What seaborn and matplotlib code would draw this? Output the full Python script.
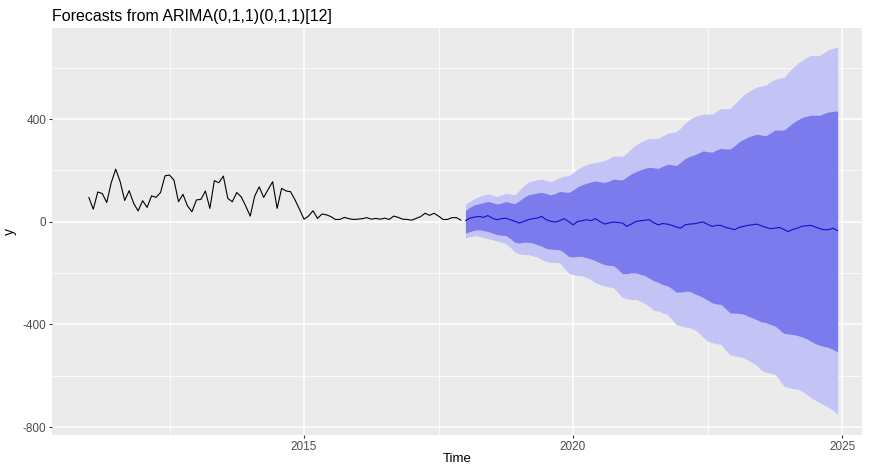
import numpy as np
import pandas as pd
import matplotlib
matplotlib.use("Agg")
import matplotlib.pyplot as plt
import seaborn as sns

# observed monthly series, Jan 2011 - Dec 2017
history = [95, 49, 116, 110, 75, 152, 205, 156, 83, 121, 72, 42,
           82, 56, 101, 95, 114, 179, 182, 162, 78, 107, 62, 39,
           85, 87, 120, 52, 160, 152, 178, 91, 78, 114, 97, 61,
           22, 100, 136, 95, 126, 156, 52, 130, 120, 117, 85, 48,
           10, 22, 43, 13, 30, 27, 20, 9, 9, 17, 12, 9,
           10, 12, 16, 10, 13, 10, 14, 9, 22, 17, 10, 9,
           6, 13, 20, 33, 25, 33, 22, 9, 9, 16, 16, 6]

# point forecast, Jan 2018 - Dec 2024
fc_mean = [4, 14, 18, 21, 17, 24, 14, 8, 12, 14, 8, 2,
           -5, 1, 8, 12, 14, 21, 8, 2, -1, 4, 12, 1,
           -12, 1, 4, 8, 4, 12, 1, -9, -5, -1, -3, -5,
           -18, -9, 1, 4, 6, 8, -4, -12, -7, -9, -14, -20,
           -25, -12, -9, -8, -4, -1, -10, -18, -14, -14, -22, -26,
           -31, -22, -18, -14, -12, -9, -16, -22, -27, -25, -22, -30,
           -38, -30, -25, -18, -16, -14, -20, -27, -31, -31, -25, -35]

hi80 = [44, 56, 66, 70, 74, 79, 75, 69, 73, 79, 74, 70,
        82, 95, 105, 108, 112, 114, 110, 105, 110, 118, 116, 114,
        124, 136, 144, 150, 155, 159, 156, 153, 158, 166, 164, 163,
        175, 187, 195, 202, 208, 212, 210, 208, 216, 224, 222, 219,
        232, 246, 255, 260, 268, 276, 273, 271, 280, 286, 284, 283,
        296, 311, 321, 330, 336, 341, 338, 335, 346, 357, 357, 357,
        370, 385, 396, 405, 411, 415, 415, 415, 422, 428, 430, 432]

hi95 = [69, 80, 90, 98, 104, 109, 104, 98, 104, 111, 108, 105,
        122, 140, 154, 160, 163, 166, 161, 156, 163, 172, 178, 179,
        192, 205, 215, 222, 228, 230, 234, 238, 246, 256, 256, 254,
        268, 285, 299, 310, 318, 325, 325, 325, 335, 344, 348, 351,
        366, 384, 399, 408, 415, 419, 419, 419, 430, 441, 441, 441,
        458, 477, 493, 505, 516, 525, 529, 532, 545, 554, 560, 562,
        582, 600, 616, 628, 640, 648, 648, 648, 660, 671, 676, 681]

lo80 = [-44, -38, -33, -31, -34, -38, -44, -50, -52, -54, -65, -80,
        -83, -80, -80, -83, -89, -95, -104, -106, -108, -109, -120, -135,
        -137, -135, -135, -140, -145, -152, -160, -167, -170, -171, -185, -202,
        -202, -199, -199, -205, -210, -220, -230, -236, -245, -249, -260, -274,
        -274, -271, -271, -280, -287, -295, -305, -316, -320, -322, -338, -355,
        -356, -357, -360, -368, -374, -382, -390, -393, -400, -406, -420, -435,
        -437, -439, -443, -448, -455, -465, -475, -481, -486, -490, -498, -507]

lo95 = [-63, -58, -54, -57, -61, -66, -70, -75, -80, -85, -100, -118,
        -125, -128, -128, -133, -137, -147, -155, -158, -159, -160, -180, -200,
        -206, -210, -210, -217, -225, -238, -245, -251, -254, -257, -275, -295,
        -300, -303, -303, -310, -318, -330, -345, -348, -355, -361, -380, -400,
        -406, -410, -413, -420, -432, -450, -465, -471, -475, -478, -500, -518,
        -523, -525, -530, -540, -549, -560, -578, -587, -590, -594, -615, -640,
        -646, -650, -652, -660, -672, -685, -695, -704, -715, -723, -735, -749]

hist_start = 2011
fc_start = 2018

hist_df = pd.DataFrame({"Time": hist_start + np.arange(len(history)) / 12, "y": history})
fc_df = pd.DataFrame({"Time": fc_start + np.arange(len(fc_mean)) / 12, "y": fc_mean,
                      "lo80": lo80, "hi80": hi80, "lo95": lo95, "hi95": hi95})

sns.set_theme(style="darkgrid", rc={
    "axes.facecolor": "#EBEBEB",
    "grid.color": "white",
    "axes.edgecolor": "#EBEBEB",
    "axes.unicode_minus": False,
})
plt.rcParams["font.family"] = ["Liberation Sans", "DejaVu Sans"]

fig = plt.figure(figsize=(8.7, 4.65), dpi=100)
ax = fig.add_axes([52 / 870, 1 - 435 / 465, (862 - 52) / 870, (435 - 28) / 465])

ax.fill_between(fc_df["Time"], fc_df["lo95"], fc_df["hi95"], color="#C3C3F5", lw=0, zorder=2)
ax.fill_between(fc_df["Time"], fc_df["lo80"], fc_df["hi80"], color="#7B7BEE", lw=0, zorder=3)
sns.lineplot(data=hist_df, x="Time", y="y", ax=ax, color="black", lw=0.8, zorder=4)
sns.lineplot(data=fc_df, x="Time", y="y", ax=ax, color="#1010C8", lw=0.8, zorder=5)

ax.set_xlim(2010.316, 2025.37)
ax.set_ylim(-831, 755)
ax.set_xticks([2015, 2020, 2025])
ax.set_xticks([2012.5, 2017.5, 2022.5], minor=True)
ax.set_yticks([-800, -400, 0, 400])
ax.set_yticks([-600, -200, 200, 600], minor=True)
ax.grid(which="major", color="white", lw=1.1)
ax.grid(which="minor", color="white", lw=0.55)
ax.tick_params(which="major", length=2.5, width=0.8, color="#333333",
               labelsize=8.5, labelcolor="#4D4D4D", pad=1.5, bottom=True, left=True)
ax.tick_params(which="minor", length=0)
for s in ax.spines.values():
    s.set_visible(False)

ax.set_xlabel("Time", fontsize=9.5, color="black", labelpad=0)
ax.set_ylabel("y", fontsize=10, color="black", labelpad=4)
ax.set_title("Forecasts from ARIMA(0,1,1)(0,1,1)[12]", loc="left", fontsize=11.5,
             color="black", pad=5)

fig.savefig("out.png", dpi=100)
